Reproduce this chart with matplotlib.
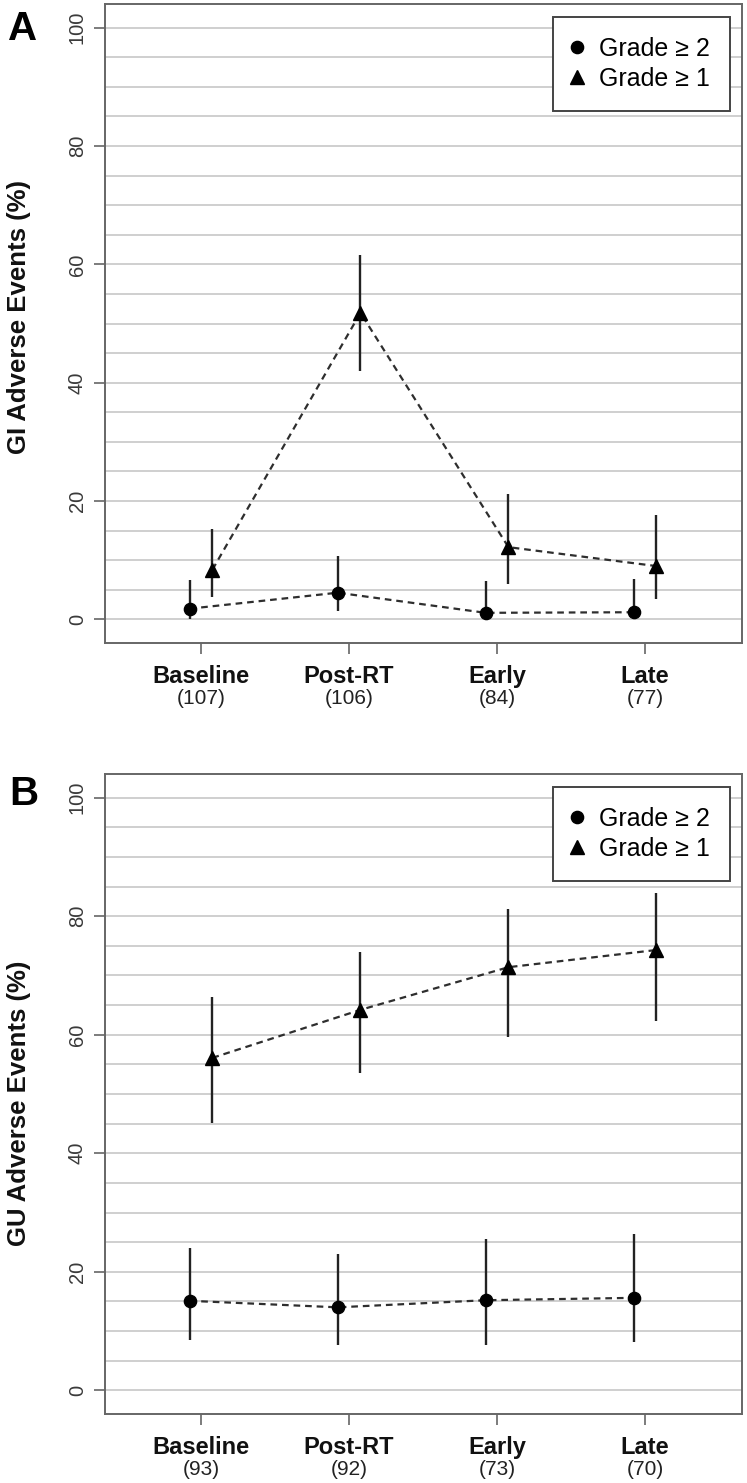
import matplotlib
matplotlib.use("Agg")
import matplotlib.pyplot as plt
import numpy as np
from matplotlib.lines import Line2D

plt.rcParams['font.family'] = ['Liberation Sans', 'DejaVu Sans']

categories = ['Baseline', 'Post-RT', 'Early', 'Late']
gi_n = [107, 106, 84, 77]
gu_n = [93, 92, 73, 70]

# GI panel, grade >= 2 (circles) and grade >= 1 (triangles)
gi_g2 = [1.8, 4.5, 1.1, 1.2]
gi_g2_lo = [0.1, 1.4, 0.0, 0.0]
gi_g2_hi = [6.6, 10.7, 6.4, 6.9]
gi_g1 = [8.4, 51.8, 12.2, 9.0]
gi_g1_lo = [3.7, 42.0, 5.9, 3.5]
gi_g1_hi = [15.3, 61.6, 21.2, 17.7]

# GU panel
gu_g2 = [15.1, 14.0, 15.2, 15.6]
gu_g2_lo = [8.5, 7.6, 7.7, 8.1]
gu_g2_hi = [24.0, 23.0, 25.5, 26.4]
gu_g1 = [56.1, 64.2, 71.4, 74.3]
gu_g1_lo = [45.1, 53.6, 59.6, 62.4]
gu_g1_hi = [66.3, 74.0, 81.2, 84.0]

W, H = 747, 1483
fig = plt.figure(figsize=(W / 100, H / 100), dpi=100)

frame_col = '#666666'
line_col = '#2e2e2e'
bar_col = '#222222'
off = 0.077


def draw_panel(ax, g2, g2lo, g2hi, g1, g1lo, g1hi, counts):
    x = np.arange(1, len(categories) + 1)
    xc = x - off
    xt = x + off
    ax.set_xlim(0.351, 4.655)
    ax.set_ylim(-4, 104)
    ax.set_yticks(range(0, 101, 20))
    ax.set_yticks(range(0, 101, 5), minor=True)
    ax.grid(True, which='both', axis='y', color='#cfcfcf', lw=1.4, zorder=0)
    ax.set_axisbelow(True)

    ax.vlines(xc, g2lo, g2hi, color=bar_col, lw=1.7, zorder=3)
    ax.vlines(xt, g1lo, g1hi, color=bar_col, lw=1.7, zorder=3)
    ax.plot(xc, g2, ls=(0, (3.0, 2.2)), color=line_col, lw=1.6, zorder=4)
    ax.plot(xt, g1, ls=(0, (3.0, 2.2)), color=line_col, lw=1.6, zorder=4)
    ax.plot(xc, g2, 'o', color='black', ms=8.8, zorder=5)
    ax.plot(xt, g1, '^', color='black', ms=10, zorder=5)

    for s in ax.spines.values():
        s.set_color(frame_col)
        s.set_linewidth(1.4)
    ax.tick_params(axis='both', which='major', direction='out', length=8,
                   width=1.2, color=frame_col)
    ax.tick_params(axis='y', which='minor', length=0)
    ax.tick_params(axis='y', labelsize=14.5, labelcolor='#3a3a3a', pad=5)
    for lab in ax.get_yticklabels():
        lab.set_rotation(90)
        lab.set_va('center')
    ax.set_xticks(x)
    ax.set_xticklabels([''] * len(x))
    tr = ax.get_xaxis_transform()
    for xi, name, n in zip(x, categories, counts):
        ax.text(xi, -0.062, name, transform=tr, ha='center', va='baseline',
                fontsize=17, fontweight='bold', color='#111111')
        ax.text(xi, -0.096, '(%d)' % n, transform=tr, ha='center', va='baseline',
                fontsize=15, color='#222222')

    handles = [Line2D([], [], marker='o', ls='none', color='black', ms=8.8),
               Line2D([], [], marker='^', ls='none', color='black', ms=10)]
    leg = ax.legend(handles, ['Grade \u2265 2', 'Grade \u2265 1'],
                    loc='upper right', bbox_to_anchor=(1 - 12 / 637, 1 - 13 / 639),
                    fontsize=18, frameon=True, fancybox=False,
                    borderpad=0.8, handlelength=0.3, handletextpad=0.75,
                    labelspacing=0.22, borderaxespad=0)
    leg.get_frame().set_edgecolor('#444444')
    leg.get_frame().set_linewidth(1.4)
    leg.get_frame().set_alpha(1)
    return ax


axA = fig.add_axes([105 / W, 1 - 643 / H, 637 / W, 639 / H])
draw_panel(axA, gi_g2, gi_g2_lo, gi_g2_hi, gi_g1, gi_g1_lo, gi_g1_hi, gi_n)
axB = fig.add_axes([105 / W, 1 - 1414 / H, 637 / W, 640 / H])
draw_panel(axB, gu_g2, gu_g2_lo, gu_g2_hi, gu_g1, gu_g1_lo, gu_g1_hi, gu_n)

fig.text(19 / W, 1 - 317.5 / H, 'GI Adverse Events (%)', rotation=90,
         ha='center', va='center', fontsize=18.5, fontweight='bold', color='#111111')
fig.text(19 / W, 1 - 1103.5 / H, 'GU Adverse Events (%)', rotation=90,
         ha='center', va='center', fontsize=18.5, fontweight='bold', color='#111111')

fig.text(8 / W, 1 - 40 / H, 'A', ha='left', va='baseline', fontsize=29,
         fontweight='bold')
fig.text(9 / W, 1 - 805 / H, 'B', ha='left', va='baseline', fontsize=29,
         fontweight='bold')

fig.savefig('out.png', dpi=100)
